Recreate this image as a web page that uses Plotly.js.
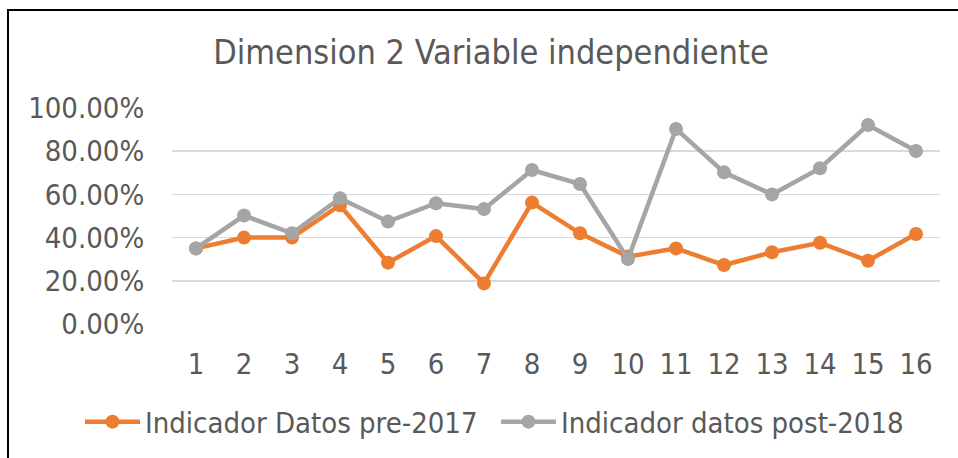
<!DOCTYPE html>
<html>
<head>
<meta charset="utf-8">
<script src="https://cdn.plot.ly/plotly-3.0.1.min.js"></script>
<style>
html,body{margin:0;padding:0;overflow:hidden;background:#fff;}
#chart{position:absolute;left:0;top:0;width:958px;height:458px;}
#frame{position:absolute;left:7px;top:9px;width:1200px;height:1200px;border:2px solid #000;pointer-events:none;z-index:10;}
</style>
</head>
<body>
<div id="chart"></div>
<div id="frame"></div>
<script>
const categories = ["1","2","3","4","5","6","7","8","9","10","11","12","13","14","15","16"];
const preValues  = [0.35,0.40,0.40,0.55,0.284,0.407,0.188,0.562,0.42,0.312,0.35,0.273,0.332,0.376,0.293,0.417];
const postValues = [0.35,0.502,0.42,0.582,0.474,0.559,0.532,0.713,0.648,0.301,0.903,0.702,0.60,0.721,0.921,0.801];
const seriesNames = ["Indicador Datos pre-2017","Indicador datos post-2018"];
const titleText = "Dimension 2 Variable independiente";

const FONT = "'DejaVu Sans Condensed', 'DejaVu Sans', sans-serif";
const TXT = "#595959";

const traces = [
  {x: categories, y: preValues, name: seriesNames[0], type: "scatter", mode: "lines+markers",
   legend: "legend",
   line: {color: "#ED7D31", width: 4.5}, marker: {color: "#ED7D31", size: 14}},
  {x: categories, y: postValues, name: seriesNames[1], type: "scatter", mode: "lines+markers",
   legend: "legend2",
   line: {color: "#A5A5A5", width: 4.5}, marker: {color: "#A5A5A5", size: 14}}
];

const legendBase = {orientation: "h", xref: "container", yref: "container",
  xanchor: "left", y: 0.079, yanchor: "middle",
  font: {family: FONT, size: 29, color: TXT}, itemwidth: 55,
  bgcolor: "rgba(0,0,0,0)"};

const layout = {
  width: 958, height: 458,
  margin: {l: 172, r: 18, t: 108, b: 134},
  paper_bgcolor: "#fff", plot_bgcolor: "#fff",
  font: {family: FONT, color: TXT, size: 29},
  title: {text: titleText, font: {family: FONT, size: 34, color: TXT},
          x: 0.5125, xanchor: "center", y: 0.8865, yanchor: "middle"},
  xaxis: {type: "category", range: [-0.5, 15.5], autorange: false,
          showgrid: false, zeroline: false, showline: false,
          ticks: "outside", ticklen: 14, tickcolor: "rgba(0,0,0,0)",
          tickfont: {family: FONT, size: 29, color: TXT}},
  yaxis: {range: [0, 1], autorange: false, dtick: 0.2, tick0: 0, tickformat: ".2%",
          showgrid: true, gridcolor: "#D9D9D9", gridwidth: 1.5,
          zeroline: false, showline: false,
          ticks: "outside", ticklen: 21, tickcolor: "rgba(0,0,0,0)",
          tickfont: {family: FONT, size: 29, color: TXT}},
  showlegend: true,
  legend: Object.assign({}, legendBase, {x: 80 / 958}),
  legend2: Object.assign({}, legendBase, {x: 496 / 958})
};

Plotly.newPlot("chart", traces, layout, {displayModeBar: false, staticPlot: true});
</script>
</body>
</html>
